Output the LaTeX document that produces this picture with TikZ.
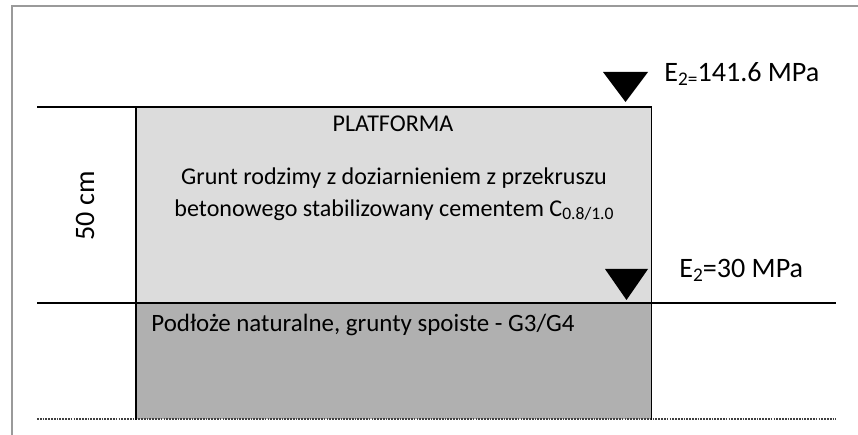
\documentclass[tikz,border=0pt]{standalone}
\usepackage{fontspec}
\setmainfont{Carlito}
\usetikzlibrary{positioning}
\definecolor{lightsoil}{HTML}{DCDCDC}
\definecolor{darksoil}{HTML}{B0B0B0}
\definecolor{framegray}{HTML}{9A9A9A}
\newcommand{\lowidx}[2]{\raisebox{-0.3ex}{\fontsize{#1}{#1}\selectfont #2}}

\begin{document}
\begin{tikzpicture}[x=0.02cm, y=-0.02cm, font=\fontsize{13.7}{18.2}\selectfont]
        \useasboundingbox (0,0) rectangle (858,435);
        \draw[framegray, line width=0.6pt] (12,435) -- (12,6) -- (858,6);

        \coordinate (tl) at (37,107);
        \coordinate (ml) at (37,303);
        \coordinate (mr) at (836,303);
        \coordinate (bl) at (37,419);
        \coordinate (br) at (836,419);

        \node[fill=lightsoil, inner sep=0, minimum width=10.3cm, minimum height=3.92cm, anchor=north west] (platform) at (136,107) {};
        \node[fill=darksoil, inner sep=0, minimum width=10.3cm, minimum height=2.32cm, anchor=north west] (subsoil) at (136,303) {};

        \draw[line width=0.8pt] (tl) -- (platform.north east);
        \draw[line width=0.8pt] (ml) -- (mr);
        \draw[line width=0.8pt, dash pattern=on 1pt off 0.6pt, black!75] (bl) -- (br);
        \draw[line width=0.8pt] (platform.north west) -- (subsoil.south west);
        \draw[line width=0.8pt] (platform.north east) -- (subsoil.south east);

        \node (title) at (393,124) {PLATFORMA};
        \node[align=center] (mix) at (394,194) {Grunt rodzimy z doziarnieniem z przekruszu\\betonowego stabilizowany cementem C\lowidx{10}{0.8/1.0}};
        \node[anchor=west, inner sep=0, font=\fontsize{14.2}{18}\selectfont] (ground) at (151,325) {Podłoże naturalne, grunty spoiste - G3/G4};
        \node[rotate=90, font=\fontsize{16}{19}\selectfont] (depth) at (85,206) {50 cm};

        \fill (603,72) -- (648,72) -- (625.5,102) -- cycle;
        \fill (605,269) -- (648,269) -- (626.5,300) -- cycle;
        \node[anchor=west, inner sep=0, font=\fontsize{16}{19}\selectfont] (topmod) at (664,74) {E\lowidx{11}{2=}141.6 MPa};
        \node[anchor=west, inner sep=0, font=\fontsize{16}{19}\selectfont] (botmod) at (679,270) {E\lowidx{11}{2}=30 MPa};
\end{tikzpicture}
\end{document}
